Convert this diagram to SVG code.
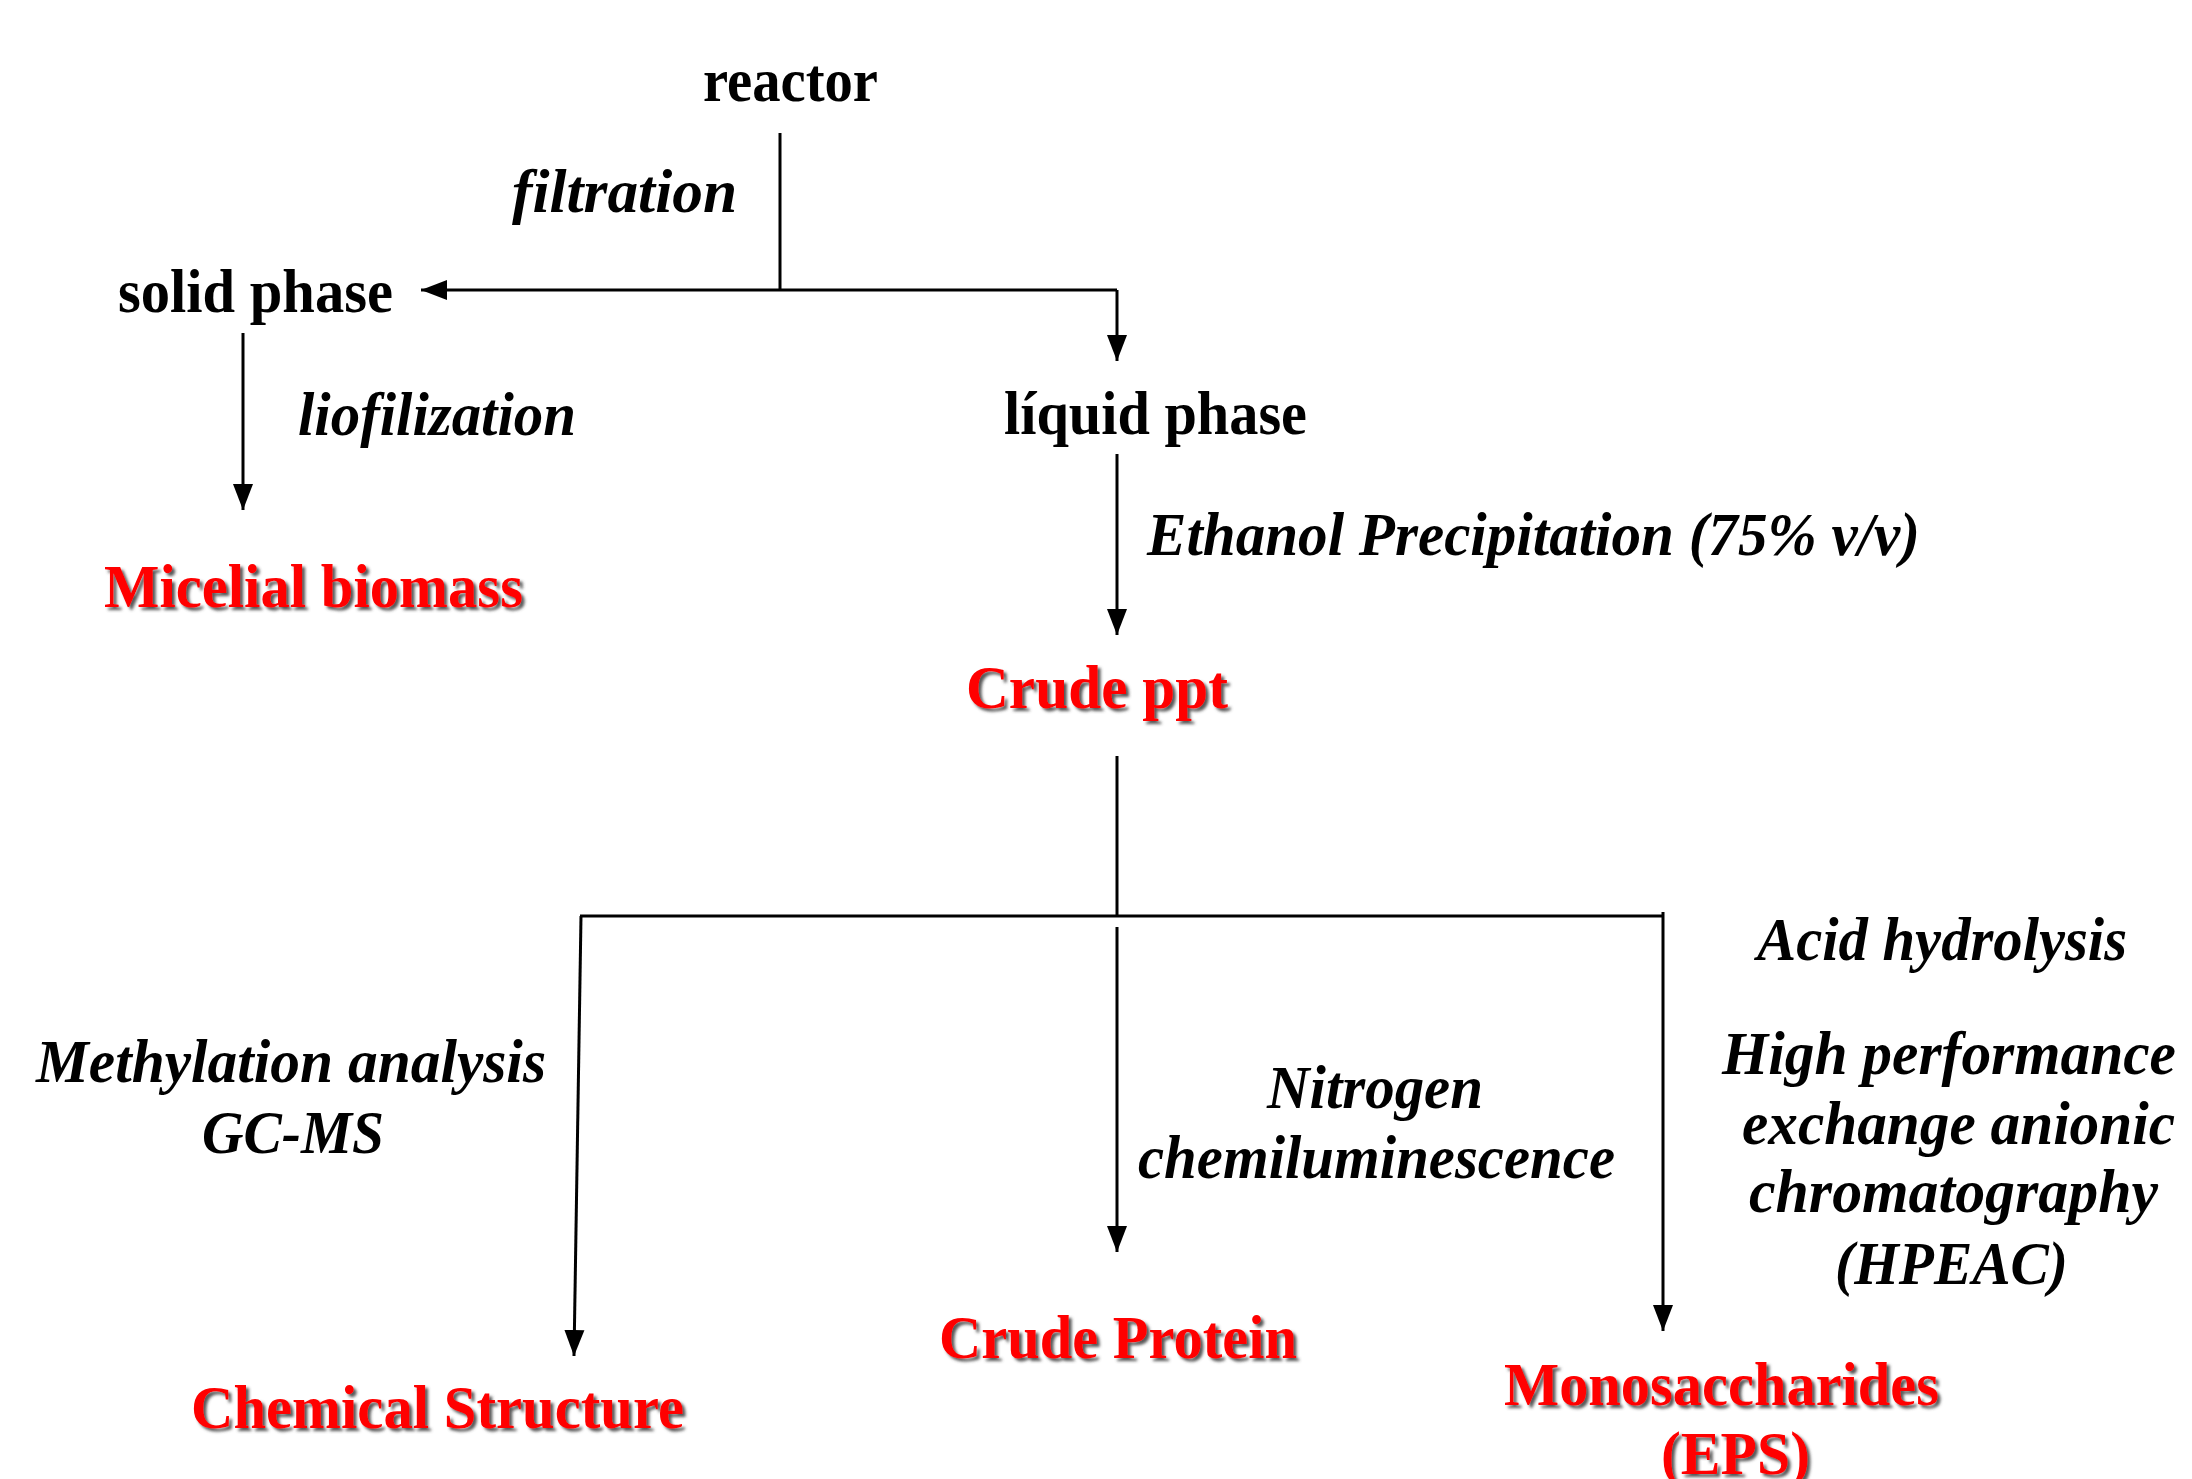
<svg xmlns="http://www.w3.org/2000/svg" width="2192" height="1479" viewBox="0 0 2192 1479">
<style>
text{font-family:"Liberation Serif","Times New Roman",serif;font-weight:bold;font-size:61px;fill:#000}
.it{font-style:italic}
.red{fill:#FF0000;filter:url(#sh)}
.ln{fill:none;stroke:#000;stroke-width:3}
</style>
<defs>
<marker id="ah" markerUnits="userSpaceOnUse" markerWidth="27" markerHeight="22" refX="26" refY="11" orient="auto">
<path d="M0,1 L26,11 L0,21 z" fill="#000"/>
</marker>
<filter id="sh" x="-10%" y="-30%" width="120%" height="160%">
<feDropShadow dx="3" dy="3" stdDeviation="1.5" flood-color="#444" flood-opacity="0.9"/>
</filter>
</defs>
<rect width="2192" height="1479" fill="#fff"/>
<g id="connectors">
<path class="ln" d="M780,133 V290"/>
<path class="ln" d="M1117,290 H421" marker-end="url(#ah)"/>
<path class="ln" d="M1117,290 V361" marker-end="url(#ah)"/>
<path class="ln" d="M243,333 V510" marker-end="url(#ah)"/>
<path class="ln" d="M1117,454 V635" marker-end="url(#ah)"/>
<path class="ln" d="M1117,756 V916"/>
<path class="ln" d="M580,916 H1664"/>
<path class="ln" d="M581,916 L574,1356" marker-end="url(#ah)"/>
<path class="ln" d="M1117,927 V1252" marker-end="url(#ah)"/>
<path class="ln" d="M1663,912 V1331" marker-end="url(#ah)"/>
</g>
<g id="reactor"><text x="703" y="101" textLength="175" lengthAdjust="spacingAndGlyphs">reactor</text></g>
<g id="filtration"><text class="it" x="512" y="212" textLength="225" lengthAdjust="spacingAndGlyphs">filtration</text></g>
<g id="solid-phase"><text x="118" y="312" textLength="275" lengthAdjust="spacingAndGlyphs">solid phase</text></g>
<g id="liofilization"><text class="it" x="298" y="435" textLength="278" lengthAdjust="spacingAndGlyphs">liofilization</text></g>
<g id="liquid-phase"><text x="1004" y="434" textLength="303" lengthAdjust="spacingAndGlyphs">líquid phase</text></g>
<g id="ethanol"><text class="it" x="1147" y="555" textLength="773" lengthAdjust="spacingAndGlyphs">Ethanol Precipitation (75% v/v)</text></g>
<g id="micelial-biomass"><text class="red" x="104" y="607" textLength="419" lengthAdjust="spacingAndGlyphs">Micelial biomass</text></g>
<g id="crude-ppt"><text class="red" x="966" y="708" textLength="262" lengthAdjust="spacingAndGlyphs">Crude ppt</text></g>
<g id="methylation">
<text class="it" x="36" y="1082" textLength="510" lengthAdjust="spacingAndGlyphs">Methylation analysis</text>
<text class="it" x="202" y="1153" textLength="182" lengthAdjust="spacingAndGlyphs">GC-MS</text>
</g>
<g id="nitrogen">
<text class="it" x="1267" y="1108" textLength="216" lengthAdjust="spacingAndGlyphs">Nitrogen</text>
<text class="it" x="1138" y="1178" textLength="477" lengthAdjust="spacingAndGlyphs">chemiluminescence</text>
</g>
<g id="acid-hydrolysis">
<text class="it" x="1757" y="960" textLength="370" lengthAdjust="spacingAndGlyphs">Acid hydrolysis</text>
<text class="it" x="1722" y="1074" textLength="454" lengthAdjust="spacingAndGlyphs">High performance</text>
<text class="it" x="1742" y="1144" textLength="433" lengthAdjust="spacingAndGlyphs">exchange anionic</text>
<text class="it" x="1749" y="1212" textLength="409" lengthAdjust="spacingAndGlyphs">chromatography</text>
<text class="it" x="1835" y="1284" textLength="233" lengthAdjust="spacingAndGlyphs">(HPEAC)</text>
</g>
<g id="chemical-structure"><text class="red" x="191" y="1428" textLength="493" lengthAdjust="spacingAndGlyphs">Chemical Structure</text></g>
<g id="crude-protein"><text class="red" x="939" y="1358" textLength="358" lengthAdjust="spacingAndGlyphs">Crude Protein</text></g>
<g id="monosaccharides">
<text class="red" x="1504" y="1405" textLength="435" lengthAdjust="spacingAndGlyphs">Monosaccharides</text>
<text class="red" x="1661" y="1474" textLength="149" lengthAdjust="spacingAndGlyphs">(EPS)</text>
</g>
</svg>
